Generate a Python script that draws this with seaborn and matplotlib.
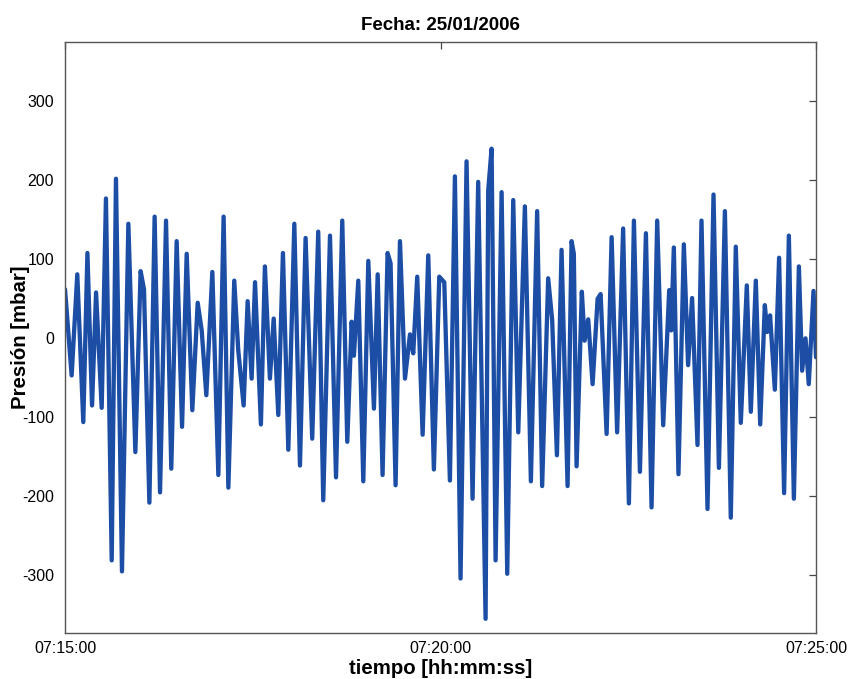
import numpy as np
import pandas as pd
import matplotlib
matplotlib.use("Agg")
import matplotlib.pyplot as plt
import seaborn as sns

# Pressure record, 07:15:00 - 07:25:00 (seconds from start, mbar)
tiempo_s = [
    0.0, 5.3, 9.8, 14.6, 17.9, 21.6, 24.8, 29.3, 32.7, 37.3,
    40.7, 45.5, 50.6, 56.2, 60.4, 63.1, 67.4, 71.6, 75.9, 80.7,
    84.9, 89.2, 93.5, 97.2, 101.7, 106.0, 109.2, 112.9, 117.7, 122.5,
    126.7, 130.5, 135.2, 138.4, 142.7, 145.9, 149.1, 151.8, 156.5, 159.7,
    163.7, 166.7, 170.4, 174.1, 178.4, 183.2, 187.7, 192.2, 197.5, 202.3,
    206.3, 211.7, 216.5, 221.5, 225.5, 229.0, 230.8, 234.3, 238.3, 242.3,
    246.8, 249.8, 253.7, 257.7, 260.1, 264.1, 267.6, 271.6, 275.6, 278.2,
    281.4, 285.7, 290.2, 294.7, 299.0, 303.0, 307.5, 311.5, 316.0, 320.8,
    325.6, 330.1, 336.0, 338.1, 340.8, 344.0, 348.8, 353.3, 358.1, 362.1,
    367.4, 372.2, 377.2, 381.2, 386.0, 389.2, 393.0, 396.7, 401.5, 404.7,
    406.5, 408.7, 412.9, 415.1, 418.0, 421.5, 425.5, 427.9, 432.7, 436.7,
    441.1, 445.9, 450.5, 454.5, 459.3, 464.1, 468.6, 473.1, 477.9, 482.7,
    484.3, 486.4, 490.1, 494.4, 497.8, 501.0, 505.3, 508.5, 513.3, 518.1,
    522.4, 527.2, 531.9, 535.9, 539.9, 544.7, 547.9, 551.9, 555.4, 559.1,
    561.0, 563.3, 567.1, 570.5, 574.5, 578.3, 582.3, 586.3, 588.9, 591.6,
    594.2, 598.0, 600.0,
]
presion_mbar = [
    62, -47, 81, -106, 108, -85, 58, -88, 177, -281,
    202, -295, 145, -144, 85, 62, -208, 154, -195, 149,
    -165, 123, -112, 107, -91, 45, 10, -72, 84, -173,
    154, -189, 73, -15, -85, 47, -51, 71, -109, 91,
    -51, 25, -97, 108, -141, 145, -161, 127, -127, 135,
    -205, 130, -176, 149, -131, 21, -22, 73, -181, 98,
    -89, 81, -173, 108, 95, -186, 123, -51, 5, -19,
    78, -122, 105, -166, 78, 71, -180, 205, -304, 224,
    -203, 198, -355, 187, 240, -281, 185, -298, 175, -119,
    167, -181, 161, -187, 76, 23, -148, 112, -187, 123,
    107, -162, 59, -3, 24, -58, 50, 56, -121, 128,
    -119, 139, -209, 149, -169, 133, -214, 149, -110, 61,
    10, 115, -172, 119, -34, 51, -135, 149, -216, 182,
    -164, 161, -227, 116, -107, 67, -93, 73, -109, 42,
    8, 29, -65, 102, -196, 130, -203, 91, -41, 0,
    -58, 60, -24,
]

x_ticks = [0, 300, 600]
x_tick_labels = ["07:15:00", "07:20:00", "07:25:00"]
y_ticks = [-300, -200, -100, 0, 100, 200, 300]

df = pd.DataFrame({"tiempo": tiempo_s, "presion": presion_mbar})

sns.set_style("white")
plt.rcParams["font.family"] = ["Liberation Sans", "DejaVu Sans"]
plt.rcParams["axes.unicode_minus"] = False
plt.rcParams["text.color"] = "black"
plt.rcParams["axes.labelcolor"] = "black"

fig = plt.figure(figsize=(8.51, 6.79), dpi=100)
ax = fig.add_axes([0.0764, 0.0677, 0.8825, 0.8704])

sns.lineplot(data=df, x="tiempo", y="presion", ax=ax, color="#1c4ea6",
             linewidth=3.1, estimator=None, sort=False)
for ln in ax.lines:
    ln.set_solid_joinstyle("round")
    ln.set_solid_capstyle("round")

ax.set_xlim(0, 600)
ax.set_ylim(-373, 375)
ax.set_xticks(x_ticks)
ax.set_xticklabels(x_tick_labels)
ax.set_yticks(y_ticks)

ax.tick_params(axis="both", direction="in", length=5, width=0.9,
               color="#444444", labelsize=11.5, labelcolor="black",
               top=True, right=True)
ax.tick_params(axis="y", pad=8)
ax.tick_params(axis="x", pad=6)
for s in ax.spines.values():
    s.set_visible(True)
    s.set_color("#555555")
    s.set_linewidth(1.0)

ax.set_title("Fecha: 25/01/2006", fontsize=13.5, fontweight="bold", pad=9)
ax.set_xlabel("tiempo [hh:mm:ss]", fontsize=14.7, fontweight="bold")
ax.set_ylabel("Presión [mbar]", fontsize=14.7, fontweight="bold")
ax.yaxis.set_label_coords(-0.046, 0.5)
ax.xaxis.set_label_coords(0.5, -0.044)
ax.xaxis.label.set_va("top")

fig.savefig("out.png", dpi=100)
